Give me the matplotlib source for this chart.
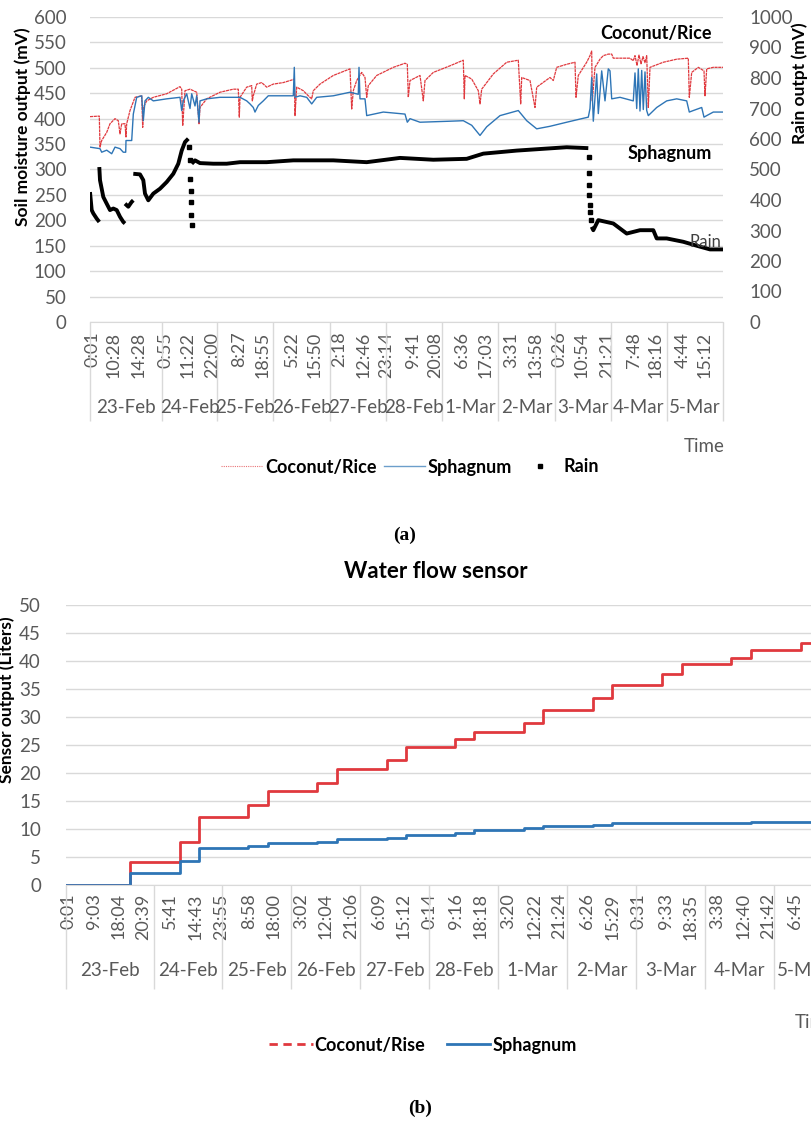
import matplotlib.pyplot as plt
from matplotlib.lines import Line2D
import numpy as np

plt.rcParams['font.family'] = ['Lato', 'DejaVu Sans']

# ---------------- panel (a): soil moisture + rain ----------------
# x is the position along the Excel category axis (sample index)
dates = ["23-Feb", "24-Feb", "25-Feb", "26-Feb", "27-Feb", "28-Feb",
         "1-Mar", "2-Mar", "3-Mar", "4-Mar", "5-Mar"]
a_date_edges = [0, 72, 127, 183, 240, 296, 352, 408, 465, 521, 577, 633]
a_tick_pos = [3, 24, 49, 75.5, 98, 122.5, 149, 173, 202, 224.5, 249, 273.6, 296,
              322.7, 345, 371.8, 396, 421, 445.4, 470, 492, 517, 543.7, 566, 592.7, 615]
a_tick_lab = ["0:01", "10:28", "14:28", "0:55", "11:22", "22:00", "8:27", "18:55",
              "5:22", "15:50", "2:18", "12:46", "23:14", "9:41", "20:08", "6:36",
              "17:03", "3:31", "13:58", "0:26", "10:54", "21:21", "7:48", "18:16",
              "4:44", "15:12"]

# soil moisture (mV), left axis
rice = [(0, 404), (9.3, 405), (10, 344), (11.7, 357), (16.7, 373), (20, 390), (25, 400),
        (28.3, 396), (30, 370), (31.7, 390), (35, 390), (36, 364), (36.7, 390), (40, 416),
        (45, 442), (51.7, 445), (52.7, 383), (53.3, 422), (56.7, 435), (63.3, 442),
        (76.7, 449), (90, 463), (91.7, 458), (92.7, 386), (95, 455), (100, 458),
        (106.7, 452), (109, 390), (110, 422), (116.7, 439), (130, 452), (143.3, 458),
        (148.3, 458), (149.3, 403), (150, 442), (156.7, 462), (161.7, 465), (162.3, 435),
        (163.3, 445), (166.7, 468), (171.7, 471), (176.7, 462), (183.3, 468), (193.3, 471),
        (201.7, 476), (204.3, 478), (205, 406), (206.7, 462), (213.3, 455), (218.3, 445),
        (221.7, 439), (223.3, 455), (230, 468), (243.3, 485), (260, 498), (261.7, 419),
        (263.3, 455), (266.7, 475), (271.7, 491), (275, 481), (276.7, 442), (278.3, 465),
        (286.7, 485), (303.3, 501), (315, 509), (317.3, 507), (318.3, 442), (320, 475),
        (330, 485), (333.3, 435), (335, 475), (343.3, 491), (360, 504), (373.3, 515),
        (374.3, 439), (375, 485), (381.7, 478), (388.3, 455), (390, 429), (391.7, 458),
        (403.3, 488), (416.7, 511), (428.3, 515), (430.7, 429), (431.7, 481), (440, 475),
        (445, 422), (446.7, 462), (460, 481), (463.3, 475), (466.7, 501), (476.7, 507),
        (485, 511), (486, 442), (488.3, 485), (496.7, 511), (500, 524), (501.7, 533),
        (502.3, 435), (505, 501), (510, 517), (513.3, 524), (518.3, 527), (521.7, 527),
        (523.3, 519), (540, 519), (543.3, 514), (545, 524), (547, 505), (549, 525),
        (551, 508), (553, 522), (555, 510), (556.7, 524), (558.3, 422), (560, 501),
        (573.3, 511), (586.7, 517), (598.3, 519), (599.3, 442), (601.7, 491), (608.3, 501),
        (614, 494), (615, 445), (616.7, 498), (623.3, 501), (633, 501)]

sphagnum = [(0, 344), (10, 341), (11.7, 334), (16.7, 338), (21.7, 331), (25, 344), (30, 341),
            (33.3, 334), (35.7, 334), (36, 357), (41.7, 357), (43.3, 409), (46.7, 442),
            (51.7, 445), (53.3, 396), (55, 435), (58.3, 442), (63.3, 435), (76.7, 439),
            (90, 442), (91.7, 416), (93.3, 435), (96.7, 449), (100, 420), (101.7, 449),
            (105, 425), (106.7, 445), (109, 393), (110, 435), (116.7, 439), (130, 442),
            (150, 442), (156.7, 435), (160, 429), (163.3, 422), (165, 413), (168.3, 426),
            (173.3, 435), (178.3, 445), (203.3, 445), (204.3, 501), (205, 442), (210, 445),
            (216.7, 442), (221.7, 429), (226.7, 442), (243.3, 445), (260, 452), (268.3, 448),
            (269, 501), (270, 439), (275, 439), (276.7, 406), (293.3, 413), (315, 409),
            (317.3, 393), (320, 400), (330, 393), (360, 395), (373.3, 396), (381.7, 387),
            (390, 367), (396.7, 384), (410, 406), (428.3, 416), (436.7, 396), (446.7, 380),
            (460, 385), (476.7, 393), (491.7, 400), (498.3, 403), (500, 420), (501.7, 481),
            (503.3, 395), (506.7, 488), (508.3, 410), (511.7, 494), (515, 435), (518.3, 498),
            (520, 494), (521.7, 439), (530, 442), (543.3, 435), (545, 490), (546.7, 420),
            (548.3, 498), (550, 415), (551.7, 495), (553.3, 418), (555, 492), (556.7, 416),
            (558.3, 406), (566.7, 422), (576.7, 435), (586.7, 439), (596.7, 435),
            (599.3, 413), (603.3, 416), (611.7, 422), (614, 403), (616.7, 406),
            (623.3, 413), (633, 413)]

# rain sensor (mV), right axis, logged in separate runs
rain_seg1 = [(0, 426), (1.7, 367), (3.3, 356), (6.7, 339), (9.3, 328)]
rain_seg2 = [(9.3, 508), (10, 465), (13.3, 410), (16.7, 388), (20, 367), (23.3, 372),
             (26.7, 367), (30, 345), (33.3, 328), (35, 323)]
rain_seg3 = [(35, 388), (38.3, 378), (41.7, 394), (43.3, 399)]
rain_seg4 = [(43.3, 486), (50, 484), (53.3, 465), (55, 421), (58.3, 399), (63.3, 421),
             (70, 437), (76.7, 459), (83.3, 486), (88.3, 519), (91.7, 562), (95, 590),
             (98.3, 601)]
rain_seg5 = [(101.7, 519), (105, 530), (110, 521), (123.3, 519), (136.7, 519), (150, 524),
             (176.7, 524), (203.3, 530), (243.3, 530), (276.7, 524), (310, 538),
             (343.3, 532), (376.7, 535), (393.3, 552), (426.7, 562), (476.7, 573),
             (498.3, 570)]
rain_seg6 = [(501.7, 312), (503.3, 301), (508.3, 334), (523.3, 323), (536.7, 290),
             (550, 301), (563.3, 301), (566.7, 274), (576.7, 274), (593.3, 263),
             (610, 247), (620, 238), (633, 238)]
rain_drops = [(99.5, 575), (100, 530), (100.4, 470), (100.8, 430), (101.2, 395),
              (101.5, 350), (101.7, 318), (498.6, 540), (498.9, 490), (499.2, 450),
              (499.5, 415), (499.8, 385), (500.2, 360), (500.8, 335)]

# ---------------- panel (b): water flow ----------------
b_date_edges = [0, 88, 156, 225, 294, 363, 432, 501, 570, 639, 708, 766]
b_tick_pos = [2.5, 28, 53, 77, 104, 130, 155, 183.4, 208, 235, 259.7, 285.3, 312.9,
              337.5, 363.2, 390.3, 414.9, 442, 469, 493.7, 520.8, 546.4, 572.5, 599.6,
              624.2, 651.3, 677.5, 702, 728.7]
b_tick_lab = ["0:01", "9:03", "18:04", "20:39", "5:41", "14:43", "23:55", "8:58", "18:00",
              "3:02", "12:04", "21:06", "6:09", "15:12", "0:14", "9:16", "18:18", "3:20",
              "12:22", "21:24", "6:26", "15:29", "0:31", "9:33", "18:35", "3:38", "12:40",
              "21:42", "6:45"]
flow_x = [0, 64, 114, 133, 182, 202, 251, 271, 321, 340, 389, 408, 458, 477, 527, 546,
          596, 616, 665, 685, 735, 766]
flow_rise = [0, 4.05, 7.74, 12.2, 14.2, 16.8, 18.3, 20.7, 22.3, 24.7, 26.1, 27.3, 28.9,
             31.25, 33.4, 35.7, 37.6, 39.4, 40.6, 42.0, 43.3, 43.3]
flow_sph = [0, 2.08, 4.3, 6.67, 6.96, 7.44, 7.74, 8.15, 8.45, 8.93, 9.2, 9.8, 10.1, 10.5,
            10.8, 11.0, 11.05, 11.1, 11.15, 11.2, 11.2, 11.2]

RED = '#e0393e'
BLUE = '#2e75b6'
GRAY = '#595959'
GRID = '#d9d9d9'
W, H = 812, 1122
TICK = 13.5


def fx(px):
    return px / W


def fy(py):
    return 1 - py / H


def cat_axis(ax, edges, ticks, labels, lab_y, sep_y, pad):
    ax.set_xticks(ticks, labels, rotation=90)
    ax.tick_params(axis='x', length=0, pad=pad, labelsize=13, labelcolor=GRAY)
    tr = ax.get_xaxis_transform()
    for i, d in enumerate(dates):
        ax.text((edges[i] + edges[i + 1]) / 2, lab_y, d, transform=tr, ha='center',
                va='center', fontsize=TICK, color=GRAY, clip_on=False)
    ax.vlines(edges, sep_y, 0, transform=tr, colors=GRID, lw=1, clip_on=False)


fig = plt.figure(figsize=(8.12, 11.22), dpi=100)

# ---- (a)
ax = fig.add_axes([fx(90), fy(322), (723 - 90) / W, (322 - 17) / H])
ax2 = ax.twinx()
ax.set_xlim(0, 633)
ax.set_ylim(0, 600)
ax2.set_ylim(0, 1000)
ax.set_yticks(range(0, 601, 50))
ax2.set_yticks(range(0, 1001, 100))
ax.yaxis.grid(True, color=GRID, lw=1)
ax.set_axisbelow(True)
for a in (ax, ax2):
    for s in a.spines.values():
        s.set_visible(False)
ax.spines['bottom'].set_visible(True)
ax.spines['bottom'].set_color(GRID)
ax.tick_params(axis='y', length=0, pad=17, labelsize=TICK, labelcolor=GRAY)
ax2.tick_params(axis='y', length=0, pad=19, labelsize=TICK, labelcolor=GRAY)
cat_axis(ax, a_date_edges, a_tick_pos, a_tick_lab, -0.279, -0.325, 7)

rx, ry = zip(*rice)
sx, sy = zip(*sphagnum)
ax.plot(rx, ry, color=RED, lw=0.9, ls=(0, (2.5, 0.5)))
ax.plot(sx, sy, color=BLUE, lw=1.0)
for seg in (rain_seg1, rain_seg2, rain_seg3, rain_seg4, rain_seg5, rain_seg6):
    x, y = zip(*seg)
    ax2.plot(x, y, color='black', lw=2.8, solid_capstyle='butt')
dx, dy = zip(*rain_drops)
ax2.plot(dx, dy, ls='none', marker='s', ms=2.2, color='black')

fig.text(fx(23), fy(127), 'Soil moisture output (mV)', rotation=90, ha='center',
         va='center', fontsize=12.5, fontweight='bold')
fig.text(fx(800), fy(83), 'Rain outpt (mV)', rotation=90, ha='center', va='center',
         fontsize=12.5, fontweight='bold')
fig.text(fx(656), fy(33), 'Coconut/Rice', ha='center', va='center', fontsize=13,
         fontweight='bold')
fig.text(fx(670), fy(153), 'Sphagnum', ha='center', va='center', fontsize=13,
         fontweight='bold')
fig.text(fx(705), fy(242), 'Rain', ha='center', va='center', fontsize=12, color='#404040')
fig.text(fx(725), fy(447), 'Time', ha='right', va='center', fontsize=TICK, color=GRAY)

h_a = [Line2D([], [], color=RED, lw=0.8, ls=(0, (1, 1)), alpha=0.7),
       Line2D([], [], color=BLUE, lw=1, alpha=0.7),
       Line2D([], [], ls='none', marker='s', ms=2.5, color='black')]
fig.legend(h_a, ['Coconut/Rice', 'Sphagnum', 'Rain'], loc='center',
           bbox_to_anchor=(fx(410), fy(467)), ncol=3, frameon=False,
           prop=dict(weight='bold', size=13), handlelength=2.3, handletextpad=0.15,
           columnspacing=0.4)
fig.text(fx(405), fy(535), '(a)', ha='center', va='center', fontsize=14,
         fontweight='bold', family=['Liberation Serif', 'DejaVu Serif'])

# ---- (b)
bx = fig.add_axes([fx(66), fy(885), (832 - 66) / W, (885 - 605) / H])
bx.set_xlim(0, 766)
bx.set_ylim(0, 50)
bx.set_yticks(range(0, 51, 5))
bx.yaxis.grid(True, color=GRID, lw=1)
bx.set_axisbelow(True)
for s in bx.spines.values():
    s.set_visible(False)
bx.spines['bottom'].set_visible(True)
bx.spines['bottom'].set_color(GRID)
bx.tick_params(axis='y', length=0, pad=18, labelsize=TICK, labelcolor=GRAY)
cat_axis(bx, b_date_edges, b_tick_pos, b_tick_lab, -0.304, -0.37, 6)

bx.step(flow_x, flow_rise, where='post', color=RED, lw=2)
bx.step(flow_x, flow_sph, where='post', color=BLUE, lw=2)

fig.text(fx(436), fy(571), 'Water flow sensor', ha='center', va='center', fontsize=16,
         fontweight='bold')
fig.text(fx(7), fy(700), 'Sensor output (Liters)', rotation=90, ha='center',
         va='center', fontsize=12.5, fontweight='bold')
fig.text(fx(795), fy(1022), 'Time', ha='left', va='center', fontsize=TICK, color=GRAY)

h_b = [Line2D([], [], color=RED, lw=2, ls=(0, (3, 2))),
       Line2D([], [], color=BLUE, lw=2)]
fig.legend(h_b, ['Coconut/Rise', 'Sphagnum'], loc='center',
           bbox_to_anchor=(fx(423), fy(1045)), ncol=2, frameon=False,
           prop=dict(weight='bold', size=13), handlelength=2.4, handletextpad=0.1,
           columnspacing=1.2)
fig.text(fx(420), fy(1108), '(b)', ha='center', va='center', fontsize=14,
         fontweight='bold', family=['Liberation Serif', 'DejaVu Serif'])

fig.savefig('out.png', dpi=100)
